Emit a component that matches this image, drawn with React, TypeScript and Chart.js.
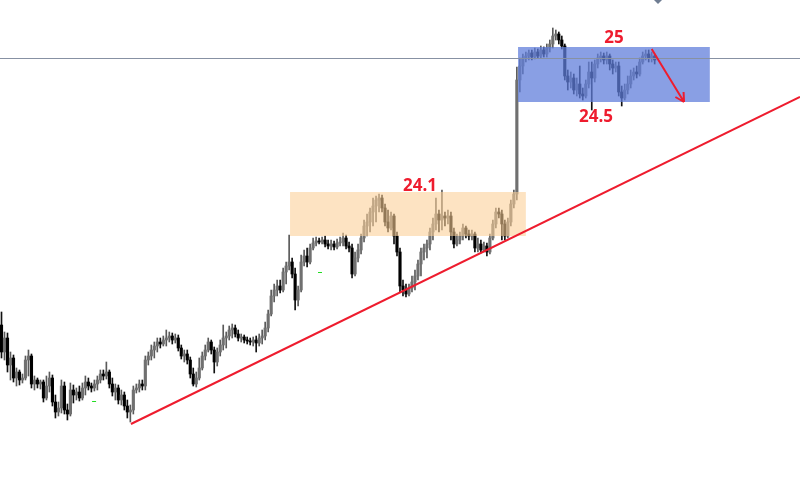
import React, { useEffect, useRef } from 'react';
import { Chart, registerables } from 'chart.js';

Chart.register(...registerables);

// ---- candle data (price) ----
const opens = [
  22.25, 21.98, 22.12, 21.85, 21.92, 21.72, 21.78, 21.70, 21.72, 21.90,
  21.94, 21.66, 21.70, 21.66, 21.68, 21.52, 21.64, 21.72, 21.48, 21.38,
  21.42, 21.64, 21.40, 21.36, 21.60, 21.55, 21.58, 21.52, 21.62, 21.68,
  21.64, 21.62, 21.66, 21.70, 21.76, 21.74, 21.78, 21.66, 21.58, 21.62,
  21.50, 21.55, 21.44, 21.38, 21.40, 21.60, 21.62, 21.66, 21.64, 21.90,
  21.94, 22.00, 22.04, 22.08, 22.06, 22.10, 22.12, 22.14, 22.10, 22.12,
  22.02, 21.94, 21.96, 21.90, 21.76, 21.66, 21.72, 21.82, 21.94, 22.00,
  22.08, 22.00, 21.88, 21.98, 22.05, 22.12, 22.14, 22.20, 22.22, 22.16,
  22.12, 22.13, 22.10, 22.09, 22.08, 22.10, 22.07, 22.12, 22.14, 22.22,
  22.36, 22.54, 22.60, 22.64, 22.60, 22.78, 22.84, 22.88, 22.76, 22.50,
  22.60, 22.88, 22.94, 22.88, 23.02, 23.07, 23.09, 23.08, 23.10, 23.06,
  23.04, 23.06, 23.03, 23.07, 23.08, 23.12, 23.04, 23.02, 22.76, 22.92,
  23.00, 23.12, 23.24, 23.28, 23.38, 23.44, 23.50, 23.52, 23.42, 23.28,
  23.22, 23.34, 23.14, 22.98, 22.64, 22.60, 22.56, 22.62, 22.68, 22.74,
  22.86, 22.98, 23.02, 23.06, 23.18, 23.26, 23.36, 23.30, 23.34, 23.32,
  23.34, 23.18, 23.06, 23.10, 23.14, 23.22, 23.16, 23.14, 23.16, 23.02,
  23.06, 23.00, 23.04, 22.98, 23.12, 23.26, 23.38, 23.36, 23.26, 23.14,
  23.28, 23.46, 23.56, 24.70, 24.84, 24.92, 24.94, 24.97, 24.93, 24.98,
  24.94, 25.00, 24.96, 25.02, 25.06, 25.14, 25.16, 25.10, 25.04, 24.74,
  24.68, 24.72, 24.60, 24.66, 24.56, 24.54, 24.66, 24.78, 24.72, 24.86,
  24.92, 24.94, 24.90, 24.94, 24.86, 24.82, 24.84, 24.58, 24.52, 24.60,
  24.66, 24.74, 24.78, 24.76, 24.88, 24.94, 24.96, 24.92, 24.94,
];

const highs = [
  22.38, 22.18, 22.17, 21.98, 21.95, 21.82, 21.80, 21.76, 21.94, 22.00,
  21.96, 21.74, 21.72, 21.70, 21.70, 21.74, 21.78, 21.75, 21.55, 21.48,
  21.70, 21.68, 21.46, 21.67, 21.65, 21.62, 21.64, 21.67, 21.74, 21.72,
  21.67, 21.70, 21.74, 21.80, 21.80, 21.88, 21.80, 21.72, 21.66, 21.65,
  21.60, 21.58, 21.50, 21.45, 21.64, 21.66, 21.70, 21.70, 21.94, 21.98,
  22.05, 22.08, 22.12, 22.12, 22.14, 22.20, 22.18, 22.17, 22.16, 22.15,
  22.05, 22.00, 22.00, 21.93, 21.82, 21.78, 21.92, 21.98, 22.05, 22.12,
  22.10, 22.03, 22.02, 22.10, 22.25, 22.18, 22.24, 22.26, 22.25, 22.20,
  22.16, 22.15, 22.13, 22.12, 22.13, 22.14, 22.16, 22.20, 22.28, 22.40,
  22.60, 22.66, 22.70, 22.70, 22.82, 22.88, 23.15, 22.92, 22.82, 22.64,
  22.95, 23.00, 23.02, 23.06, 23.12, 23.13, 23.12, 23.13, 23.14, 23.10,
  23.10, 23.09, 23.11, 23.13, 23.17, 23.15, 23.08, 23.06, 22.98, 23.06,
  23.16, 23.30, 23.36, 23.42, 23.52, 23.54, 23.56, 23.55, 23.46, 23.40,
  23.38, 23.36, 23.18, 23.02, 22.70, 22.66, 22.66, 22.74, 22.80, 22.90,
  23.02, 23.06, 23.10, 23.22, 23.32, 23.52, 23.40, 23.60, 23.38, 23.40,
  23.38, 23.22, 23.16, 23.18, 23.26, 23.24, 23.20, 23.20, 23.18, 23.12,
  23.10, 23.08, 23.07, 23.16, 23.30, 23.42, 23.42, 23.40, 23.30, 23.32,
  23.50, 23.60, 24.83, 24.92, 24.96, 24.98, 25.00, 25.00, 25.02, 25.01,
  25.04, 25.03, 25.06, 25.10, 25.22, 25.20, 25.18, 25.14, 25.06, 24.80,
  24.78, 24.76, 24.72, 24.84, 24.62, 24.70, 24.88, 24.88, 24.90, 24.96,
  24.98, 24.97, 24.98, 24.96, 24.90, 24.88, 24.88, 24.64, 24.66, 24.74,
  24.80, 24.82, 24.84, 24.92, 24.98, 25.00, 25.00, 24.98, 24.96,
];

const lows = [
  21.92, 21.90, 21.78, 21.70, 21.68, 21.64, 21.65, 21.67, 21.70, 21.74,
  21.62, 21.60, 21.62, 21.61, 21.48, 21.50, 21.58, 21.44, 21.32, 21.34,
  21.37, 21.36, 21.30, 21.34, 21.47, 21.50, 21.49, 21.50, 21.55, 21.60,
  21.58, 21.59, 21.60, 21.67, 21.70, 21.71, 21.62, 21.54, 21.50, 21.46,
  21.45, 21.40, 21.32, 21.28, 21.36, 21.57, 21.58, 21.60, 21.60, 21.85,
  21.90, 21.92, 21.98, 22.02, 22.04, 22.04, 22.08, 22.06, 22.07, 21.99,
  21.91, 21.88, 21.86, 21.72, 21.64, 21.63, 21.70, 21.80, 21.90, 21.98,
  21.96, 21.77, 21.84, 21.94, 22.00, 22.02, 22.10, 22.12, 22.13, 22.09,
  22.08, 22.07, 22.06, 22.05, 22.04, 21.98, 22.04, 22.06, 22.10, 22.18,
  22.34, 22.48, 22.54, 22.57, 22.58, 22.66, 22.80, 22.72, 22.40, 22.44,
  22.58, 22.84, 22.83, 22.86, 23.00, 23.04, 23.06, 23.06, 23.03, 23.01,
  23.00, 23.00, 23.01, 23.04, 23.04, 23.01, 22.98, 22.72, 22.74, 22.88,
  22.96, 23.08, 23.14, 23.18, 23.24, 23.28, 23.38, 23.38, 23.24, 23.18,
  23.20, 23.06, 22.94, 22.58, 22.54, 22.53, 22.54, 22.58, 22.60, 22.70,
  22.74, 22.90, 22.92, 23.00, 23.10, 23.20, 23.18, 23.20, 23.24, 23.26,
  23.10, 23.02, 23.04, 23.06, 23.10, 23.12, 23.10, 23.10, 22.98, 22.98,
  22.97, 22.98, 22.94, 22.96, 23.10, 23.22, 23.32, 23.10, 23.10, 23.12,
  23.24, 23.42, 23.50, 24.58, 24.76, 24.88, 24.90, 24.90, 24.91, 24.92,
  24.92, 24.93, 24.93, 24.98, 25.02, 25.10, 25.06, 25.01, 24.70, 24.60,
  24.62, 24.56, 24.54, 24.52, 24.50, 24.52, 24.62, 24.40, 24.68, 24.82,
  24.88, 24.86, 24.86, 24.80, 24.76, 24.78, 24.54, 24.44, 24.50, 24.56,
  24.62, 24.70, 24.72, 24.74, 24.86, 24.90, 24.88, 24.88, 24.86,
];

const closes = [
  21.98, 22.12, 21.85, 21.92, 21.72, 21.78, 21.70, 21.72, 21.90, 21.94,
  21.66, 21.70, 21.66, 21.68, 21.52, 21.64, 21.72, 21.48, 21.38, 21.42,
  21.64, 21.40, 21.36, 21.60, 21.55, 21.58, 21.52, 21.62, 21.68, 21.64,
  21.62, 21.66, 21.70, 21.76, 21.74, 21.78, 21.66, 21.58, 21.62, 21.50,
  21.55, 21.44, 21.38, 21.40, 21.60, 21.62, 21.66, 21.64, 21.90, 21.94,
  22.00, 22.04, 22.08, 22.06, 22.10, 22.12, 22.14, 22.10, 22.12, 22.02,
  21.94, 21.96, 21.90, 21.76, 21.66, 21.72, 21.82, 21.94, 22.00, 22.08,
  22.00, 21.88, 21.98, 22.05, 22.12, 22.14, 22.20, 22.22, 22.16, 22.12,
  22.13, 22.10, 22.09, 22.08, 22.10, 22.07, 22.12, 22.14, 22.22, 22.36,
  22.54, 22.60, 22.64, 22.60, 22.78, 22.84, 22.88, 22.76, 22.50, 22.60,
  22.88, 22.94, 22.88, 23.02, 23.07, 23.09, 23.08, 23.10, 23.06, 23.04,
  23.06, 23.03, 23.07, 23.08, 23.12, 23.04, 23.02, 22.76, 22.92, 23.00,
  23.12, 23.24, 23.28, 23.38, 23.44, 23.50, 23.52, 23.42, 23.28, 23.22,
  23.34, 23.14, 22.98, 22.64, 22.60, 22.56, 22.62, 22.68, 22.74, 22.86,
  22.98, 23.02, 23.06, 23.18, 23.26, 23.36, 23.30, 23.34, 23.32, 23.34,
  23.18, 23.06, 23.10, 23.14, 23.22, 23.16, 23.14, 23.16, 23.02, 23.06,
  23.00, 23.04, 22.98, 23.12, 23.26, 23.38, 23.36, 23.26, 23.14, 23.28,
  23.46, 23.56, 24.70, 24.84, 24.92, 24.94, 24.97, 24.93, 24.98, 24.94,
  25.00, 24.96, 25.02, 25.06, 25.14, 25.16, 25.10, 25.04, 24.74, 24.68,
  24.72, 24.60, 24.66, 24.56, 24.54, 24.66, 24.78, 24.72, 24.86, 24.92,
  24.94, 24.90, 24.94, 24.86, 24.82, 24.84, 24.58, 24.52, 24.60, 24.66,
  24.74, 24.78, 24.76, 24.88, 24.94, 24.96, 24.92, 24.94, 24.90,
];

// total bar slots along the time axis (empty space on the right)
const slotCount = 267;
const priceMin = 20.68;
const priceMax = 25.5;

// ---- annotations (data units: slot index, price) ----
const rangeBoxLow = { x0: 96.3, x1: 175.0, top: 23.58, bottom: 23.14 }; // orange
const rangeBoxHigh = { x0: 172.4, x1: 236.4, top: 25.03, bottom: 24.48 }; // blue
const priceLine = 24.92;
const trendStart = { x: 43.2, y: 21.26 };
const trendEnd = { x: 266.5, y: 24.53 };
const arrowStart = { x: 217.0, y: 25.01 };
const arrowEnd = { x: 227.8, y: 24.48 };
const labelTexts = ['24.1', '25', '24.5'];
const labelX = [139.7, 204.4, 198.4];
const labelY = [23.64, 25.12, 24.33];
const markerDiamond = { x: 219.1, y: 25.52 };
const greenMarksX = [30.9, 106.3];
const greenMarksY = [21.49, 22.78];

const RED = '#ee1c2e';

const overlayPlugin = {
  id: 'overlay',
  afterDatasetsDraw(chart: any) {
    const { ctx } = chart;
    const xs = chart.scales.x;
    const ys = chart.scales.y;
    const px = (v: number) => xs.getPixelForValue(v);
    const py = (v: number) => ys.getPixelForValue(v);
    ctx.save();

    // orange consolidation box
    ctx.fillStyle = 'rgba(252, 206, 150, 0.58)';
    ctx.fillRect(px(rangeBoxLow.x0), py(rangeBoxLow.top), px(rangeBoxLow.x1) - px(rangeBoxLow.x0), py(rangeBoxLow.bottom) - py(rangeBoxLow.top));

    // blue box
    ctx.fillStyle = 'rgba(96, 126, 218, 0.74)';
    ctx.fillRect(px(rangeBoxHigh.x0), py(rangeBoxHigh.top), px(rangeBoxHigh.x1) - px(rangeBoxHigh.x0), py(rangeBoxHigh.bottom) - py(rangeBoxHigh.top));

    // horizontal price line
    ctx.strokeStyle = '#8791a3';
    ctx.lineWidth = 1;
    const hy = Math.round(py(priceLine)) + 0.5;
    ctx.beginPath();
    ctx.moveTo(0, hy);
    ctx.lineTo(chart.width, hy);
    ctx.stroke();

    // trend line
    ctx.strokeStyle = RED;
    ctx.lineWidth = 2;
    ctx.beginPath();
    ctx.moveTo(px(trendStart.x), py(trendStart.y));
    ctx.lineTo(px(trendEnd.x), py(trendEnd.y));
    ctx.stroke();

    // arrow
    const ax0 = px(arrowStart.x), ay0 = py(arrowStart.y);
    const ax1 = px(arrowEnd.x), ay1 = py(arrowEnd.y);
    ctx.beginPath();
    ctx.moveTo(ax0, ay0);
    ctx.lineTo(ax1, ay1);
    const ang = Math.atan2(ay1 - ay0, ax1 - ax0);
    const hl = 10;
    ctx.moveTo(ax1, ay1);
    ctx.lineTo(ax1 - hl * Math.cos(ang - 0.5), ay1 - hl * Math.sin(ang - 0.5));
    ctx.moveTo(ax1, ay1);
    ctx.lineTo(ax1 - hl * Math.cos(ang + 0.5), ay1 - hl * Math.sin(ang + 0.5));
    ctx.stroke();

    // labels
    ctx.fillStyle = RED;
    ctx.font = 'bold 17px "Open Sans", "DejaVu Sans", sans-serif';
    ctx.textAlign = 'center';
    ctx.textBaseline = 'middle';
    labelTexts.forEach((t, i) => ctx.fillText(t, px(labelX[i]), py(labelY[i])));

    // small diamond marker at top
    const dx = px(markerDiamond.x), dy = py(markerDiamond.y);
    ctx.fillStyle = '#6f7d92';
    ctx.beginPath();
    ctx.moveTo(dx, dy - 6);
    ctx.lineTo(dx + 6, dy);
    ctx.lineTo(dx, dy + 6);
    ctx.lineTo(dx - 6, dy);
    ctx.closePath();
    ctx.fill();

    // tiny green marks
    ctx.strokeStyle = '#22dd22';
    ctx.lineWidth = 1;
    greenMarksX.forEach((gx, i) => {
      const x = px(gx), y = Math.round(py(greenMarksY[i])) + 0.5;
      ctx.beginPath();
      ctx.moveTo(x - 2, y);
      ctx.lineTo(x + 2, y);
      ctx.stroke();
    });

    ctx.restore();
  },
};

export default function App() {
  const canvasRef = useRef<HTMLCanvasElement | null>(null);

  useEffect(() => {
    document.body.style.margin = '0';
    const canvas = canvasRef.current;
    if (!canvas) return;
    const labels = Array.from({ length: slotCount }, (_, i) => String(i));
    const up = closes.map((c, i) => c >= opens[i]);
    const bodyData = opens.map((o, i) => [o, closes[i]]);
    const wickData = lows.map((l, i) => [l, highs[i]]);

    const chart = new Chart(canvas, {
      type: 'bar',
      data: {
        labels,
        datasets: [
          {
            label: 'body',
            data: bodyData as any,
            backgroundColor: up.map((u) => (u ? '#707070' : '#000000')),
            barThickness: 2.5,
            minBarLength: 1,
            grouped: false,
            borderWidth: 0,
          },
          {
            label: 'wick',
            data: wickData as any,
            backgroundColor: up.map((u) => (u ? '#5a5a5a' : '#111111')),
            barThickness: 1,
            grouped: false,
            borderWidth: 0,
          },
        ],
      },
      options: {
        animation: false,
        responsive: false,
        events: [],
        layout: { padding: 0 },
        plugins: { legend: { display: false }, tooltip: { enabled: false } },
        scales: {
          x: { display: false, grid: { display: false } },
          y: { display: false, min: priceMin, max: priceMax, grid: { display: false } },
        },
      },
      plugins: [overlayPlugin],
    });
    return () => chart.destroy();
  }, []);

  return (
    <div style={{ width: 800, height: 482, background: '#ffffff' }}>
      <canvas ref={canvasRef} width={800} height={482} style={{ display: 'block' }} />
    </div>
  );
}
